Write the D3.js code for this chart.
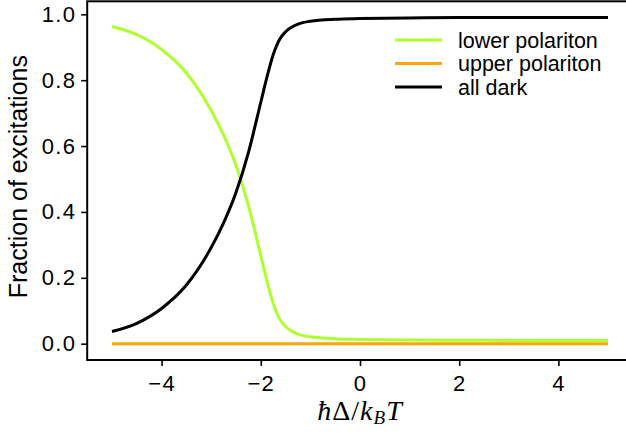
<!DOCTYPE html>
<html>
<head>
<meta charset="utf-8">
<script src="https://cdn.jsdelivr.net/npm/d3@7"></script>
<style>
  body { margin: 0; background: #fff; }
  svg { display: block; font-family: "Liberation Sans", Arial, Helvetica, sans-serif; }
</style>
</head>
<body>
<div id="chart"></div>
<script>
// detuning values, hbar*Delta / kB T
const xs = [-5, -4.5, -4, -3.5, -3, -2.75, -2.5, -2.25, -2, -1.875, -1.75, -1.625,
  -1.5, -1.25, -1, -0.5, 0, 1, 2, 3, 4, 5];

const lowerPolariton = [0.963, 0.938, 0.893, 0.822, 0.708, 0.633, 0.541, 0.42, 0.267,
  0.19, 0.122, 0.076, 0.052, 0.029, 0.021, 0.015, 0.013, 0.011, 0.0105, 0.01, 0.01, 0.01];
const upperPolariton = [0, 0, 0, 0, 0, 0, 0, 0, 0, 0, 0, 0,
  0, 0, 0, 0, 0, 0, 0, 0, 0, 0];
const allDark = [0.037, 0.062, 0.107, 0.178, 0.292, 0.367, 0.459, 0.58, 0.733,
  0.81, 0.877, 0.923, 0.947, 0.97, 0.979, 0.985, 0.987, 0.989, 0.99, 0.99, 0.99, 0.99];

const xTicks = [-4, -2, 0, 2, 4];
const yTicks = [0, 0.2, 0.4, 0.6, 0.8, 1.0];

const series = [
  { label: "lower polariton", color: "#adff2f", values: lowerPolariton },
  { label: "upper polariton", color: "#ffa500", values: upperPolariton },
  { label: "all dark", color: "#000000", values: allDark }
];

const width = 626, height = 439;
const margin = { left: 87.2, top: 1.3, right: 632.8, bottom: 360 };

const x = d3.scaleLinear().domain([-5.5, 5.5]).range([margin.left, margin.right]);
const y = d3.scaleLinear().domain([-0.0495, 1.0395]).range([margin.bottom, margin.top]);

const svg = d3.select("#chart").append("svg")
  .attr("width", width)
  .attr("height", height);

// curves
const line = d3.line()
  .x((d, i) => x(xs[i]))
  .y(d => y(d))
  .curve(d3.curveMonotoneX);

svg.append("g")
  .selectAll("path")
  .data(series)
  .join("path")
  .attr("fill", "none")
  .attr("stroke", d => d.color)
  .attr("stroke-width", 3)
  .attr("d", d => line(d.values));

// axes
const xAxis = svg.append("g")
  .attr("transform", `translate(0,${margin.bottom})`)
  .call(d3.axisBottom(x).tickValues(xTicks).tickFormat(d3.format("d")).tickSize(6).tickPadding(9).tickSizeOuter(0));
const yAxis = svg.append("g")
  .attr("transform", `translate(${margin.left},0)`)
  .call(d3.axisLeft(y).tickValues(yTicks).tickFormat(d3.format(".1f")).tickSize(6).tickPadding(5).tickSizeOuter(0));

[xAxis, yAxis].forEach(ax => {
  ax.select(".domain").remove();
  ax.selectAll("line").attr("stroke", "#000").attr("stroke-width", 1.6);
  ax.selectAll("text")
    .attr("font-size", 22)
    .attr("letter-spacing", 1.3)
    .attr("font-family", null)
    .attr("fill", "#000");
});

// frame
svg.append("rect")
  .attr("x", margin.left)
  .attr("y", margin.top)
  .attr("width", margin.right - margin.left)
  .attr("height", margin.bottom - margin.top)
  .attr("fill", "none")
  .attr("stroke", "#000")
  .attr("stroke-width", 2);

// axis labels
svg.append("text")
  .attr("transform", `translate(27,${(margin.top + margin.bottom) / 2 - 4}) rotate(-90)`)
  .attr("text-anchor", "middle")
  .attr("font-size", 25)
  .text("Fraction of excitations");

const xl = svg.append("text")
  .attr("x", 360)
  .attr("y", 420)
  .attr("text-anchor", "middle")
  .attr("font-family", "'Liberation Serif', 'DejaVu Serif', serif")
  .attr("font-size", 28)
  .attr("letter-spacing", 1);
xl.append("tspan").attr("font-style", "italic").text("ħ");
xl.append("tspan").text("Δ/");
xl.append("tspan").attr("font-style", "italic").text("k");
xl.append("tspan").attr("font-style", "italic").attr("font-size", 19).attr("dy", 4).text("B");
xl.append("tspan").attr("font-style", "italic").attr("dy", -4).text("T");

// legend
const legend = svg.append("g")
  .selectAll("g")
  .data(series)
  .join("g")
  .attr("transform", (d, i) => `translate(395,${40 + i * 23.5})`);

legend.append("line")
  .attr("x1", 0).attr("x2", 47)
  .attr("stroke", d => d.color)
  .attr("stroke-width", 3);

legend.append("text")
  .attr("x", 63)
  .attr("dy", "0.35em")
  .attr("font-size", 21.5)
  .text(d => d.label);
</script>
</body>
</html>
